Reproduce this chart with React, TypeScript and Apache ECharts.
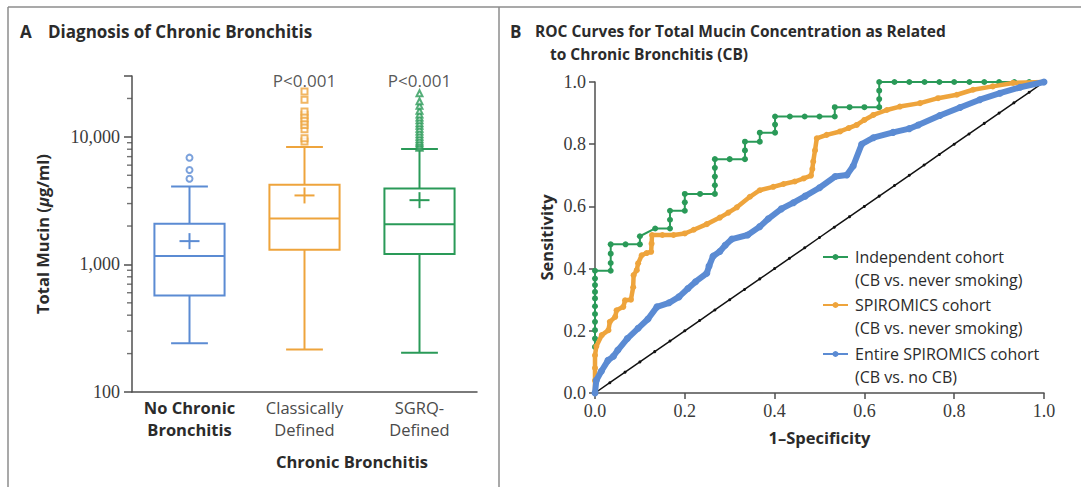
import React, { useEffect, useRef } from 'react';
import * as echarts from 'echarts';

// ---------- Panel A data ----------
const categories = ['No Chronic\nBronchitis', 'Classically\nDefined', 'SGRQ-\nDefined'];
const boxMin = [241, 215, 203];
const boxQ1 = [572, 1304, 1205];
const boxMedian = [1162, 2296, 2061];
const boxQ3 = [2085, 4220, 3945];
const boxMax = [4090, 8320, 8020];
const boxMean = [1523, 3474, 3190];
const outliersNone = [4700, 5500, 6870];
const outliersClassic = [9190, 9770, 11490, 12400, 13180, 14000, 14900, 15800, 19500, 22650];
const outliersSgrq = [8200, 8400, 8600, 8900, 9200, 9600, 10000, 10500, 11000, 11600, 12200, 12800, 13500, 14200, 15000, 16000, 17500, 19000, 22000];
const pValues = ['', 'P<0.001', 'P<0.001'];
const yMinorTicks = [200, 300, 400, 500, 600, 700, 800, 900, 2000, 3000, 4000, 5000, 6000, 7000, 8000, 9000, 20000];

// ---------- Panel B data (1-specificity, sensitivity) ----------
const rocIndependent = [[0, 0], [0, 0.148], [0, 0.175], [0, 0.202], [0, 0.229], [0, 0.254], [0, 0.279], [0, 0.304], [0, 0.325], [0, 0.347], [0, 0.368], [0, 0.393], [0.035, 0.393], [0.035, 0.418], [0.035, 0.448], [0.035, 0.478], [0.068, 0.478], [0.1, 0.478], [0.1, 0.504], [0.134, 0.529], [0.167, 0.529], [0.167, 0.557], [0.167, 0.586], [0.2, 0.586], [0.2, 0.613], [0.2, 0.64], [0.234, 0.64], [0.267, 0.64], [0.267, 0.668], [0.267, 0.696], [0.267, 0.724], [0.267, 0.752], [0.3, 0.752], [0.334, 0.752], [0.334, 0.78], [0.334, 0.808], [0.367, 0.808], [0.367, 0.837], [0.401, 0.837], [0.401, 0.863], [0.401, 0.889], [0.434, 0.889], [0.467, 0.889], [0.5, 0.889], [0.534, 0.889], [0.534, 0.919], [0.567, 0.919], [0.6, 0.919], [0.633, 0.919], [0.633, 0.945], [0.633, 0.972], [0.633, 1], [0.667, 1], [0.7, 1], [0.734, 1], [0.767, 1], [0.8, 1], [0.834, 1], [0.867, 1], [0.9, 1], [0.934, 1], [0.967, 1], [1, 1]];
const rocSpiromics = [[0, 0], [0, 0.04], [0, 0.08], [0, 0.121], [0.003, 0.15], [0.015, 0.186], [0.03, 0.202], [0.033, 0.229], [0.045, 0.245], [0.048, 0.266], [0.063, 0.277], [0.067, 0.298], [0.08, 0.3], [0.085, 0.34], [0.086, 0.379], [0.093, 0.395], [0.096, 0.417], [0.104, 0.443], [0.115, 0.45], [0.125, 0.454], [0.126, 0.48], [0.127, 0.508], [0.15, 0.508], [0.175, 0.508], [0.2, 0.513], [0.22, 0.525], [0.249, 0.543], [0.278, 0.564], [0.297, 0.58], [0.316, 0.597], [0.345, 0.631], [0.367, 0.652], [0.397, 0.663], [0.42, 0.672], [0.445, 0.68], [0.465, 0.69], [0.481, 0.699], [0.484, 0.72], [0.486, 0.744], [0.49, 0.78], [0.494, 0.819], [0.516, 0.83], [0.546, 0.841], [0.565, 0.852], [0.583, 0.862], [0.6, 0.878], [0.62, 0.894], [0.65, 0.91], [0.679, 0.921], [0.724, 0.932], [0.764, 0.948], [0.806, 0.959], [0.842, 0.975], [0.886, 0.986], [0.931, 0.997], [1, 1]];
const rocEntire = [[0, 0], [0.003, 0.041], [0.014, 0.07], [0.029, 0.105], [0.041, 0.118], [0.051, 0.138], [0.072, 0.175], [0.096, 0.208], [0.118, 0.238], [0.138, 0.277], [0.165, 0.29], [0.187, 0.309], [0.207, 0.336], [0.224, 0.358], [0.249, 0.385], [0.254, 0.408], [0.263, 0.44], [0.278, 0.455], [0.29, 0.475], [0.305, 0.495], [0.34, 0.508], [0.367, 0.535], [0.386, 0.56], [0.415, 0.592], [0.442, 0.612], [0.468, 0.633], [0.5, 0.66], [0.535, 0.696], [0.561, 0.701], [0.575, 0.73], [0.594, 0.8], [0.62, 0.821], [0.664, 0.838], [0.7, 0.85], [0.72, 0.862], [0.768, 0.892], [0.813, 0.918], [0.857, 0.943], [0.902, 0.964], [0.947, 0.983], [1, 1]];
const diagonalPts = [0, 0.033, 0.067, 0.1, 0.133, 0.167, 0.2, 0.233, 0.267, 0.3, 0.333, 0.367, 0.4, 0.433, 0.467, 0.5, 0.533, 0.567, 0.6, 0.633, 0.667, 0.7, 0.733, 0.767, 0.8, 0.833, 0.867, 0.9, 0.933, 0.967, 1];
const legendLines = [
  ['Independent cohort', '(CB vs. never smoking)'],
  ['SPIROMICS cohort', '(CB vs. never smoking)'],
  ['Entire SPIROMICS cohort', '(CB vs. no CB)'],
];

const BLUE = '#5b8bd3';
const ORANGE = '#eea43c';
const GREEN = '#2a9a58';
const boxColors = [BLUE, ORANGE, GREEN];
const TEXT = '#2b2b2b';
const AXIS = '#4f4f4f';
const SANS = 'Open Sans';
const SERIF = 'Liberation Serif';
const GRID_A = { left: 132, top: 76, width: 345, height: 316 };
const GRID_B = { left: 595, top: 82, width: 449, height: 311 };
const MINOR_LEN = 5;

function buildGraphic(): any[] {
  const legendColors = [GREEN, ORANGE, BLUE];
  const legendY = [257, 305, 354];
  const graphic: any[] = [
    { type: 'line', shape: { x1: 8, y1: 7, x2: 1081, y2: 7 }, style: { stroke: '#8c8c8c', lineWidth: 1.5 } },
    { type: 'line', shape: { x1: 8, y1: 7, x2: 8, y2: 487 }, style: { stroke: '#8c8c8c', lineWidth: 1.5 } },
    { type: 'line', shape: { x1: 499, y1: 7, x2: 499, y2: 487 }, style: { stroke: '#8c8c8c', lineWidth: 1.5 } },
    { type: 'text', x: 20, y: 31, style: { text: 'A', font: `bold 17px ${SANS}`, fill: TEXT, verticalAlign: 'middle' } },
    { type: 'text', x: 48, y: 31, style: { text: 'Diagnosis of Chronic Bronchitis', font: `bold 17px ${SANS}`, fill: TEXT, verticalAlign: 'middle' } },
    { type: 'text', x: 510, y: 31, style: { text: 'B', font: `bold 17px ${SANS}`, fill: TEXT, verticalAlign: 'middle' } },
    { type: 'text', x: 535, y: 31, style: { text: 'ROC Curves for Total Mucin Concentration as Related', font: `bold 15.5px ${SANS}`, fill: TEXT, verticalAlign: 'middle' } },
    { type: 'text', x: 550, y: 54, style: { text: 'to Chronic Bronchitis (CB)', font: `bold 15.5px ${SANS}`, fill: TEXT, verticalAlign: 'middle' } },
    { type: 'text', x: 352, y: 461, style: { text: 'Chronic Bronchitis', font: `bold 16.5px ${SANS}`, fill: TEXT, align: 'center', verticalAlign: 'middle' } },
  ];
  legendLines.forEach((lines, i) => {
    const y = legendY[i];
    graphic.push({ type: 'line', shape: { x1: 823, y1: y, x2: 848, y2: y }, style: { stroke: legendColors[i], lineWidth: 2 } });
    graphic.push({ type: 'circle', shape: { cx: 835.5, cy: y, r: 3 }, style: { fill: legendColors[i] } });
    graphic.push({ type: 'text', x: 855, y, style: { text: lines[0], font: `16px ${SANS}`, fill: TEXT, verticalAlign: 'middle' } });
    graphic.push({ type: 'text', x: 855, y: y + 23, style: { text: lines[1], font: `16px ${SANS}`, fill: TEXT, verticalAlign: 'middle' } });
  });
  return graphic;
}

function buildOption() {
  const boxData = categories.map((c, i) => [i, boxMin[i], boxQ1[i], boxMedian[i], boxQ3[i], boxMax[i], boxMean[i]]);
  const band = GRID_A.width / categories.length;

  return {
    animation: false,
    backgroundColor: '#ffffff',
    textStyle: { fontFamily: SANS },
    grid: [GRID_A, GRID_B],
    graphic: buildGraphic(),
    xAxis: [
      {
        gridIndex: 0,
        type: 'category',
        data: categories,
        boundaryGap: true,
        axisLine: { lineStyle: { color: AXIS, width: 1.5 } },
        axisTick: { show: false },
        axisLabel: {
          interval: 0,
          margin: 4,
          formatter: (v: string, i: number) => v.split('\n').map((s) => (i === 0 ? `{b|${s}}` : `{n|${s}}`)).join('\n'),
          rich: {
            b: { fontFamily: SANS, fontWeight: 'bold', fontSize: 16.5, color: TEXT, lineHeight: 22 },
            n: { fontFamily: SANS, fontSize: 16.5, color: '#4a4a4a', lineHeight: 22 },
          },
        },
        splitLine: { show: false },
      },
      {
        gridIndex: 1,
        type: 'value',
        min: 0,
        max: 1,
        interval: 0.2,
        axisLine: { lineStyle: { color: AXIS, width: 1.5 } },
        axisTick: { show: true, inside: false, length: 6, lineStyle: { color: AXIS, width: 1.5 } },
        axisLabel: { margin: 9, fontFamily: SERIF, fontSize: 18, color: '#3a3a3a', formatter: (v: number) => v.toFixed(1) },
        splitLine: { show: false },
        name: '1\u2013Specificity',
        nameLocation: 'middle',
        nameGap: 36,
        nameTextStyle: { fontFamily: SANS, fontWeight: 'bold', fontSize: 16.5, color: TEXT },
      },
    ],
    yAxis: [
      {
        gridIndex: 0,
        type: 'log',
        logBase: 10,
        min: 100,
        max: 30000,
        axisLine: { show: true, lineStyle: { color: AXIS, width: 1.5 } },
        axisTick: { show: true, length: 8, lineStyle: { color: AXIS, width: 1.5 } },
        axisLabel: {
          margin: 12,
          fontFamily: SERIF,
          fontSize: 18,
          color: '#3a3a3a',
          formatter: (v: number) => {
            const r = Math.round(v);
            if (r !== 100 && r !== 1000 && r !== 10000) return '';
            return r.toLocaleString('en-US');
          },
        },
        splitLine: { show: false },
        name: '{b|Total Mucin (}{i|\u03bc}{b|g/ml)}',
        nameLocation: 'middle',
        nameGap: 81,
        nameRotate: 90,
        nameTextStyle: {
          rich: {
            b: { fontFamily: SANS, fontWeight: 'bold', fontSize: 16.5, color: TEXT },
            i: { fontFamily: SANS, fontWeight: 'bold', fontStyle: 'italic', fontSize: 16.5, color: TEXT },
          },
        },
      },
      {
        gridIndex: 1,
        type: 'value',
        min: 0,
        max: 1,
        interval: 0.2,
        axisLine: { show: true, lineStyle: { color: AXIS, width: 1.5 } },
        axisTick: { show: true, length: 6, lineStyle: { color: AXIS, width: 1.5 } },
        axisLabel: { margin: 9, fontFamily: SERIF, fontSize: 18, color: '#3a3a3a', formatter: (v: number) => v.toFixed(1) },
        splitLine: { show: false },
        name: 'Sensitivity',
        nameLocation: 'middle',
        nameGap: 40,
        nameRotate: 90,
        nameTextStyle: { fontFamily: SANS, fontWeight: 'bold', fontSize: 16.5, color: TEXT },
      },
    ],
    series: [
      {
        // minor ticks of the log axis (2..9 x 10^k), placed by the axis scale
        type: 'scatter',
        xAxisIndex: 0,
        yAxisIndex: 0,
        data: yMinorTicks.map((t) => [0, t]),
        symbol: 'rect',
        symbolSize: [MINOR_LEN, 1.4],
        symbolOffset: [-(band / 2 + MINOR_LEN / 2), 0],
        itemStyle: { color: AXIS },
        clip: false,
        silent: true,
        z: 10,
      },
      {
        type: 'custom',
        xAxisIndex: 0,
        yAxisIndex: 0,
        data: boxData,
        encode: { x: 0, y: [1, 2, 3, 4, 5] },
        renderItem: (params: any, api: any) => {
          const i = api.value(0);
          const lo = api.coord([i, api.value(1)]);
          const q1 = api.coord([i, api.value(2)]);
          const med = api.coord([i, api.value(3)]);
          const q3 = api.coord([i, api.value(4)]);
          const hi = api.coord([i, api.value(5)]);
          const mean = api.coord([i, api.value(6)]);
          const bandW = api.size([1, 0])[0];
          const bw = bandW * 0.61;
          const cap = bandW * 0.32;
          const x = lo[0];
          const color = boxColors[params.dataIndex];
          const st = { stroke: color, lineWidth: 2, fill: null };
          return {
            type: 'group',
            children: [
              { type: 'line', shape: { x1: x, y1: hi[1], x2: x, y2: q3[1] }, style: st },
              { type: 'line', shape: { x1: x, y1: q1[1], x2: x, y2: lo[1] }, style: st },
              { type: 'line', shape: { x1: x - cap / 2, y1: hi[1], x2: x + cap / 2, y2: hi[1] }, style: st },
              { type: 'line', shape: { x1: x - cap / 2, y1: lo[1], x2: x + cap / 2, y2: lo[1] }, style: st },
              { type: 'rect', shape: { x: x - bw / 2, y: q3[1], width: bw, height: q1[1] - q3[1] }, style: { stroke: color, lineWidth: 2, fill: '#ffffff' } },
              { type: 'line', shape: { x1: x - bw / 2, y1: med[1], x2: x + bw / 2, y2: med[1] }, style: st },
              { type: 'line', shape: { x1: x - 10, y1: mean[1], x2: x + 10, y2: mean[1] }, style: st },
              { type: 'line', shape: { x1: x, y1: mean[1] - 8, x2: x, y2: mean[1] + 8 }, style: st },
            ],
          };
        },
        z: 2,
      },
      {
        type: 'scatter',
        xAxisIndex: 0,
        yAxisIndex: 0,
        symbol: 'emptyCircle',
        symbolSize: 6,
        itemStyle: { color: BLUE, borderColor: BLUE, borderWidth: 1.3 },
        data: outliersNone.map((v) => [0, v]),
        z: 3,
      },
      {
        type: 'scatter',
        xAxisIndex: 0,
        yAxisIndex: 0,
        symbol: 'emptyRect',
        symbolSize: 6,
        itemStyle: { color: ORANGE, borderColor: ORANGE, borderWidth: 1.3 },
        data: outliersClassic.map((v) => [1, v]),
        z: 3,
      },
      {
        type: 'scatter',
        xAxisIndex: 0,
        yAxisIndex: 0,
        symbol: 'emptyTriangle',
        symbolSize: 6,
        itemStyle: { color: GREEN, borderColor: GREEN, borderWidth: 1.3 },
        data: outliersSgrq.map((v) => [2, v]),
        z: 3,
      },
      {
        type: 'scatter',
        xAxisIndex: 0,
        yAxisIndex: 0,
        symbolSize: 1,
        itemStyle: { color: 'rgba(0,0,0,0)' },
        data: pValues.map((p, i) => [i, 30000]).filter((d, i) => pValues[i] !== ''),
        label: {
          show: true,
          position: 'inside',
          offset: [0, 4],
          formatter: (p: any) => pValues[p.value[0]],
          fontFamily: SANS,
          fontSize: 17,
          color: TEXT,
        },
        silent: true,
      },
      {
        type: 'line',
        xAxisIndex: 1,
        yAxisIndex: 1,
        data: diagonalPts.map((v) => [v, v]),
        lineStyle: { color: '#111', width: 1.5 },
        itemStyle: { color: '#111' },
        symbol: 'circle',
        symbolSize: 3,
        showSymbol: true,
        clip: false,
        z: 1,
      },
      {
        type: 'line',
        name: 'Independent cohort',
        xAxisIndex: 1,
        yAxisIndex: 1,
        data: rocIndependent,
        lineStyle: { color: GREEN, width: 2 },
        itemStyle: { color: GREEN },
        symbol: 'circle',
        symbolSize: 6,
        showSymbol: true,
        clip: false,
        z: 2,
      },
      {
        type: 'line',
        name: 'SPIROMICS cohort',
        xAxisIndex: 1,
        yAxisIndex: 1,
        data: rocSpiromics,
        lineStyle: { color: ORANGE, width: 4.5 },
        itemStyle: { color: ORANGE },
        symbol: 'circle',
        symbolSize: 6,
        showSymbol: true,
        clip: false,
        z: 3,
      },
      {
        type: 'line',
        name: 'Entire SPIROMICS cohort',
        xAxisIndex: 1,
        yAxisIndex: 1,
        data: rocEntire,
        lineStyle: { color: BLUE, width: 6 },
        itemStyle: { color: BLUE },
        symbol: 'circle',
        symbolSize: 7,
        showSymbol: true,
        clip: false,
        z: 4,
      },
    ],
  };
}

export default function App() {
  const ref = useRef<HTMLDivElement>(null);
  useEffect(() => {
    if (!ref.current) return;
    const chart = echarts.init(ref.current, null, { renderer: 'svg' });
    chart.setOption(buildOption() as any);
    return () => chart.dispose();
  }, []);
  return <div ref={ref} style={{ position: 'fixed', left: 0, top: 0, width: 1081, height: 487, background: '#fff' }} />;
}
